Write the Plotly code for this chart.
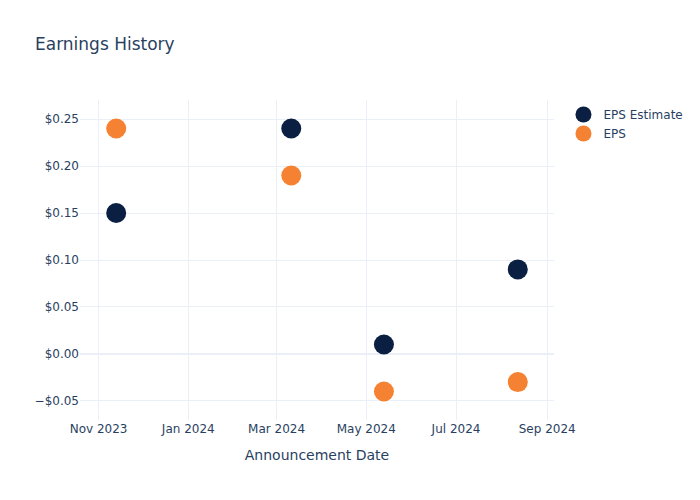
import plotly.graph_objects as go

dates = ["2023-11-13", "2024-03-11", "2024-05-13", "2024-08-12"]
eps_estimate = [0.15, 0.24, 0.01, 0.09]
eps_actual = [0.24, 0.19, -0.04, -0.03]

fig = go.Figure()
fig.add_trace(go.Scatter(x=dates, y=eps_estimate, mode="markers", name="EPS Estimate",
                         marker=dict(color="#0b1f42", size=20)))
fig.add_trace(go.Scatter(x=dates, y=eps_actual, mode="markers", name="EPS",
                         marker=dict(color="#f58232", size=20)))
fig.update_layout(
    template="plotly_white",
    width=700, height=500,
    font=dict(family="DejaVu Sans"),
    title=dict(text="Earnings History"),
    xaxis=dict(title=dict(text="Announcement Date")),
    yaxis=dict(tickformat="$.2f"),
)
fig.write_html("out.html")
